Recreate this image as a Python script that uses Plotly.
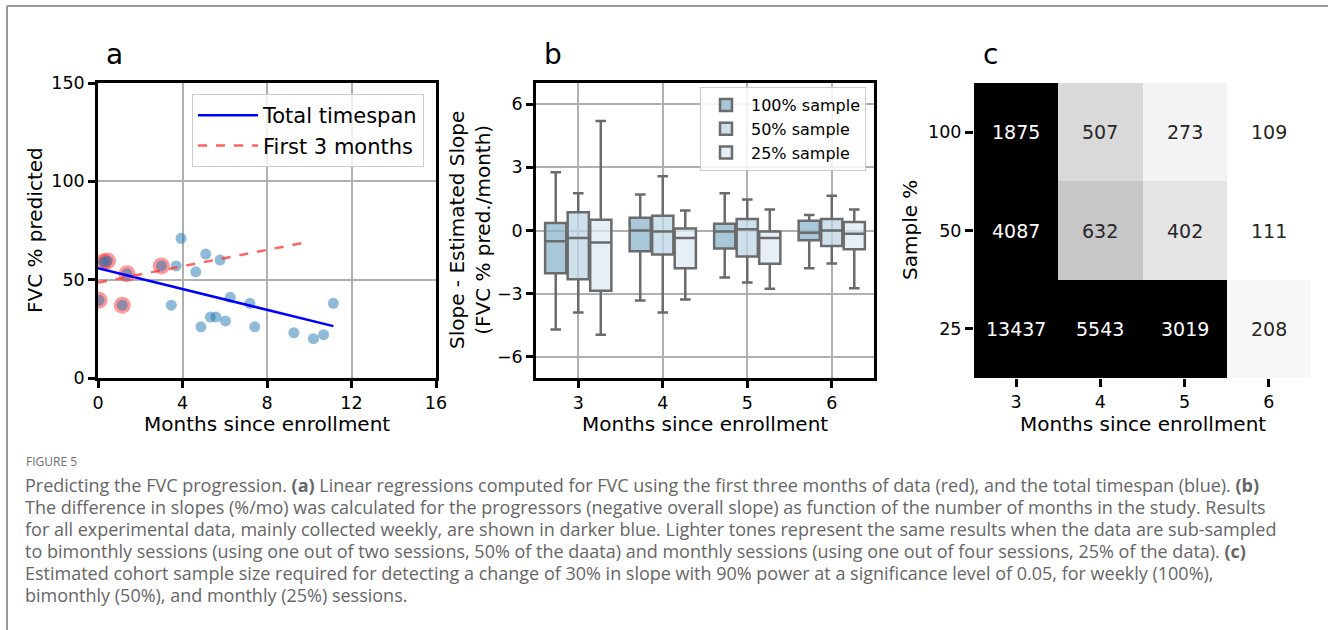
import plotly.graph_objects as go

W, H = 1328, 630

# ---------------- Panel a data ----------------
months_pts = [0.05, 0.25, 0.45, 1.15, 1.37, 3.0, 3.47, 3.7, 3.93, 4.63, 4.87, 5.1,
              5.32, 5.58, 5.78, 6.03, 6.26, 7.19, 7.42, 9.27, 10.2, 10.68, 11.14]
fvc_pts = [39.5, 59, 59.5, 37, 53, 57, 37, 57, 71, 54, 26, 63,
           31, 31, 60, 29, 41, 38, 26, 23, 20, 22, 38]
in_first3 = [True, True, True, True, True, True, False, False, False, False, False, False,
             False, False, False, False, False, False, False, False, False, False, False]
total_fit_intercept, total_fit_slope, total_fit_span = 55.8, -2.64, [0, 11.14]
first3_fit_intercept, first3_fit_slope, first3_fit_span = 48.5, 2.08, [0, 10.0]

# ---------------- Panel b data ----------------
months_b = [3, 4, 5, 6]
box_names = ["100% sample", "50% sample", "25% sample"]
box_upper = [[2.77, 1.71, 1.77, 0.73], [1.77, 2.58, 1.47, 1.65], [5.2, 0.95, 1.0, 1.0]]
box_q3 = [[0.36, 0.6, 0.32, 0.46], [0.87, 0.7, 0.55, 0.55], [0.51, 0.1, -0.05, 0.4]]
box_median = [[-0.51, 0.0, -0.05, -0.11], [-0.36, -0.05, 0.06, 0.0], [-0.57, -0.36, -0.36, -0.16]]
box_q1 = [[-2.03, -0.98, -0.85, -0.46], [-2.31, -1.14, -1.23, -0.74], [-2.86, -1.79, -1.58, -0.89]]
box_lower = [[-4.7, -3.32, -2.23, -1.79], [-3.89, -3.89, -2.47, -1.57], [-4.95, -3.28, -2.77, -2.74]]
box_fills = ["rgba(139,182,206,0.75)", "rgba(190,214,230,0.75)", "rgba(223,233,243,0.75)"]

# ---------------- Panel c data ----------------
months_c = [3, 4, 5, 6]
sample_pct = ["100", "50", "25"]          # rows, top to bottom
sample_size = [[1875, 507, 273, 109],
               [4087, 632, 402, 111],
               [13437, 5543, 3019, 208]]

FONT = "DejaVu Sans"


def fx(p):
    return p / W


def fy(p):
    return 1 - p / H


fig = go.Figure()

# ---- panel a ----
rx = [m for m, f in zip(months_pts, in_first3) if f]
ry = [v for v, f in zip(fvc_pts, in_first3) if f]
fig.add_trace(go.Scatter(x=rx, y=ry, mode="markers", showlegend=False,
                         marker=dict(size=17, color="rgba(255,0,0,0.4)", line=dict(width=0)),
                         xaxis="x", yaxis="y", hoverinfo="skip"))
fig.add_trace(go.Scatter(x=months_pts, y=fvc_pts, mode="markers", showlegend=False,
                         marker=dict(size=11, color="rgba(31,119,180,0.5)", line=dict(width=0)),
                         xaxis="x", yaxis="y"))
fig.add_trace(go.Scatter(x=total_fit_span,
                         y=[total_fit_intercept + total_fit_slope * t for t in total_fit_span],
                         mode="lines", name="Total timespan",
                         line=dict(color="#0000ff", width=2.5), xaxis="x", yaxis="y", legend="legend"))
fig.add_trace(go.Scatter(x=first3_fit_span,
                         y=[first3_fit_intercept + first3_fit_slope * t for t in first3_fit_span],
                         mode="lines", name="First 3 months",
                         line=dict(color="rgba(255,60,60,0.8)", width=2.5, dash="dash"),
                         xaxis="x", yaxis="y", legend="legend"))

# ---- panel b ----
for i, nm in enumerate(box_names):
    fig.add_trace(go.Box(x=months_b, q1=box_q1[i], median=box_median[i], q3=box_q3[i],
                         lowerfence=box_lower[i], upperfence=box_upper[i], name=nm,
                         fillcolor=box_fills[i], line=dict(color="#6b6b6b", width=2.5),
                         whiskerwidth=0.5, boxpoints=False, xaxis="x2", yaxis="y2",
                         legend="legend2"))

# ---- panel c ----
greys = [[0.0, "#ffffff"], [0.125, "#f0f0f0"], [0.25, "#d9d9d9"], [0.375, "#bdbdbd"],
         [0.5, "#969696"], [0.625, "#737373"], [0.75, "#525252"], [0.875, "#252525"],
         [1.0, "#000000"]]
row_pos = list(range(len(sample_pct) - 1, -1, -1))   # top row at highest position
fig.add_trace(go.Heatmap(x=months_c, y=row_pos, z=sample_size, colorscale=greys,
                         zmin=109, zmax=1700, showscale=False, xaxis="x3", yaxis="y3"))

annotations = []
for r, yp in enumerate(row_pos):
    for c, m in enumerate(months_c):
        v = sample_size[r][c]
        annotations.append(dict(x=m, y=yp, xref="x3", yref="y3", text=str(v), showarrow=False,
                                font=dict(family=FONT, size=19,
                                          color="white" if v > 900 else "#262626")))

# ---- axes ----
common = dict(showline=True, mirror=True, linecolor="black", linewidth=2.5,
              ticks="outside", ticklen=7, tickwidth=2.5, tickcolor="black",
              showgrid=True, gridcolor="#b0b0b0", gridwidth=1.5, zeroline=False,
              automargin=False,
              tickfont=dict(family=FONT, size=17.5, color="black"))
plain = dict(showline=False, showgrid=False, zeroline=False, automargin=False,
             ticks="outside", ticklen=8, tickwidth=2.5, tickcolor="black",
             tickfont=dict(family=FONT, size=17.5, color="black"))

ya_dom = [fy(378), fy(83)]
fig.update_layout(
    xaxis=dict(domain=[fx(98), fx(436)], range=[0, 16], tickvals=[0, 4, 8, 12, 16],
               anchor="y", **common),
    yaxis=dict(domain=ya_dom, range=[0, 150], tickvals=[0, 50, 100, 150], anchor="x", **common),
    xaxis2=dict(domain=[fx(536), fx(874)], range=[2.5, 6.5], tickvals=[3, 4, 5, 6],
                anchor="y2", **common),
    yaxis2=dict(domain=ya_dom, range=[-7, 7], tickvals=[-6, -3, 0, 3, 6], anchor="x2", **common),
    xaxis3=dict(domain=[fx(974), fx(1311)], range=[2.5, 6.5], tickvals=months_c,
                anchor="y3", **plain),
    yaxis3=dict(domain=ya_dom, range=[-0.5, 2.5], tickvals=row_pos, ticktext=sample_pct,
                anchor="x3", **plain),
    boxmode="group", boxgap=0.2, boxgroupgap=0.06,
    legend=dict(x=fx(424), y=fy(94), xanchor="right", yanchor="top",
                bgcolor="rgba(255,255,255,0.8)", bordercolor="#cccccc", borderwidth=1,
                itemwidth=60,
                font=dict(family=FONT, size=21, color="black"), tracegroupgap=0),
    legend2=dict(x=fx(866), y=fy(87), xanchor="right", yanchor="top",
                 bgcolor="rgba(255,255,255,0.85)", bordercolor="#cccccc", borderwidth=1,
                 itemwidth=40,
                 font=dict(family=FONT, size=16, color="black"), tracegroupgap=0),
    width=W, height=H, margin=dict(l=0, r=0, t=0, b=0, autoexpand=False),
    paper_bgcolor="white", plot_bgcolor="white",
    font=dict(family=FONT, color="black"),
)

# panel letters
for letter, x in (("a", 115), ("b", 553), ("c", 990)):
    annotations.append(dict(x=fx(x), y=fy(54), xref="paper", yref="paper", text=letter,
                            showarrow=False, xanchor="center", yanchor="middle",
                            font=dict(family=FONT, size=28, color="black")))

# axis titles
for x in (267, 705, 1142.5):
    annotations.append(dict(x=fx(x), y=fy(424), xref="paper", yref="paper",
                            text="Months since enrollment", showarrow=False,
                            xanchor="center", yanchor="middle",
                            font=dict(family=FONT, size=20, color="black")))
annotations.append(dict(x=fx(35), y=fy(230), xref="paper", yref="paper", text="FVC % predicted",
                        showarrow=False, textangle=-90, xanchor="center", yanchor="middle",
                        font=dict(family=FONT, size=20, color="black")))
annotations.append(dict(x=fx(470), y=fy(230), xref="paper", yref="paper",
                        text="Slope - Estimated Slope<br>(FVC % pred./month)",
                        showarrow=False, textangle=-90, xanchor="center", yanchor="middle",
                        font=dict(family=FONT, size=20, color="black")))
annotations.append(dict(x=fx(910), y=fy(230), xref="paper", yref="paper", text="Sample %",
                        showarrow=False, textangle=-90, xanchor="center", yanchor="middle",
                        font=dict(family=FONT, size=20, color="black")))

# caption
CAP = "Open Sans"
annotations.append(dict(x=fx(24), y=fy(462), xref="paper", yref="paper", text="FIGURE 5",
                        showarrow=False, xanchor="left", yanchor="middle",
                        font=dict(family=CAP, size=12, color="#707070")))
caption_lines = [
    "Predicting the FVC progression. <b>(a)</b> Linear regressions computed for FVC using the first three months of data (red), and the total timespan (blue). <b>(b)</b>",
    "The difference in slopes (%/mo) was calculated for the progressors (negative overall slope) as function of the number of months in the study. Results",
    "for all experimental data, mainly collected weekly, are shown in darker blue. Lighter tones represent the same results when the data are sub-sampled",
    "to bimonthly sessions (using one out of two sessions, 50% of the daata) and monthly sessions (using one out of four sessions, 25% of the data). <b>(c)</b>",
    "Estimated cohort sample size required for detecting a change of 30% in slope with 90% power at a significance level of 0.05, for weekly (100%),",
    "bimonthly (50%), and monthly (25%) sessions.",
]
for i, line in enumerate(caption_lines):
    annotations.append(dict(x=fx(23), y=fy(485 + 22 * i), xref="paper", yref="paper",
                            text=line, showarrow=False, xanchor="left", yanchor="middle",
                            font=dict(family=CAP, size=18, color="#666666")))

fig.update_layout(annotations=annotations)

# frame lines of the figure box
fig.add_shape(type="line", xref="paper", yref="paper", x0=fx(7), x1=fx(7), y0=0, y1=fy(6),
              line=dict(color="#999999", width=2))
fig.add_shape(type="line", xref="paper", yref="paper", x0=fx(7), x1=1, y0=fy(6), y1=fy(6),
              line=dict(color="#999999", width=2))

fig.write_html("out.html", config={"displayModeBar": False},
               post_script="document.body.style.margin='0px';")
